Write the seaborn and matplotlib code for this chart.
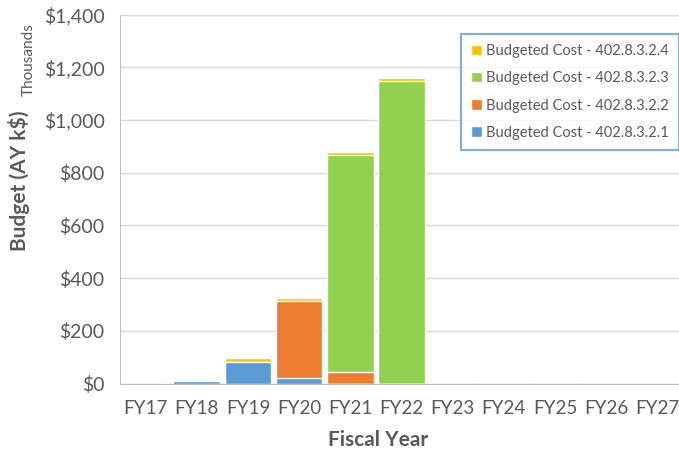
import numpy as np
import pandas as pd
import matplotlib
matplotlib.use("Agg")
import matplotlib.pyplot as plt
import seaborn as sns
from matplotlib.ticker import FuncFormatter

# Data (thousands of AY $)
years = ['FY17', 'FY18', 'FY19', 'FY20', 'FY21', 'FY22', 'FY23', 'FY24', 'FY25', 'FY26', 'FY27']
cost_1 = [0, 8, 83, 19, 0, 0, 0, 0, 0, 0, 0]       # 402.8.3.2.1
cost_2 = [0, 0, 0, 294, 44, 0, 0, 0, 0, 0, 0]      # 402.8.3.2.2
cost_3 = [0, 0, 0, 0, 822, 1149, 0, 0, 0, 0, 0]    # 402.8.3.2.3
cost_4 = [0, 0, 13, 10, 11, 11, 0, 0, 0, 0, 0]     # 402.8.3.2.4

names = ['Budgeted Cost - 402.8.3.2.1', 'Budgeted Cost - 402.8.3.2.2',
         'Budgeted Cost - 402.8.3.2.3', 'Budgeted Cost - 402.8.3.2.4']
colors = ['#5b9bd5', '#ed7d31', '#92d050', '#ffc000']

sns.set_style('white')
plt.rcParams['font.family'] = ['Lato', 'DejaVu Sans']

df = pd.DataFrame({'year': years, 'c1': cost_1, 'c2': cost_2, 'c3': cost_3, 'c4': cost_4})
cum = df[['c1', 'c2', 'c3', 'c4']].cumsum(axis=1)

fig = plt.figure(figsize=(6.79, 4.53), dpi=100)
ax = fig.add_axes([120 / 679, 69.5 / 453, 563 / 679, 369 / 453])

# stacked bars: draw cumulative totals from the top layer down
for i in [3, 2, 1, 0]:
    sns.barplot(x=df['year'], y=cum.iloc[:, i], color=colors[i], width=0.91,
                saturation=1, label=names[i], ax=ax, zorder=2)

ax.set_xlim(-0.5, 10.5)
ax.set_ylim(0, 1400)
ax.set_yticks(np.arange(0, 1401, 200))
ax.yaxis.set_major_formatter(FuncFormatter(lambda v, p: '${:,.0f}'.format(v)))
ax.grid(axis='y', color='#d9d9d9', linewidth=1, zorder=0)
ax.set_axisbelow(True)

for s in ['top', 'right']:
    ax.spines[s].set_visible(False)
ax.spines['left'].set_color('#bfbfbf')
ax.spines['bottom'].set_color('#bfbfbf')

ax.tick_params(axis='both', length=0, colors='#595959')
ax.tick_params(axis='y', labelsize=14, pad=11)
ax.tick_params(axis='x', labelsize=13.5, pad=12)

ax.set_xlabel('Fiscal Year', fontsize=15, fontweight='bold', color='#595959')
ax.xaxis.set_label_coords((378 - 120) / 563, -0.125)
ax.set_ylabel('Budget (AY k$)', fontsize=15, fontweight='bold', color='#595959')
ax.yaxis.set_label_coords(-0.16, 0.55)
fig.text(29 / 679, 1 - 60 / 453, 'Thousands', rotation=90, fontsize=11,
         color='#595959', ha='center', va='center')

handles, labels = ax.get_legend_handles_labels()
leg = ax.legend(handles, labels, loc='upper left', bbox_to_anchor=(0.606, 0.947),
                borderaxespad=0, fontsize=10.5, frameon=True, fancybox=False,
                handlelength=0.7, handleheight=0.7, handletextpad=0.3,
                labelspacing=0.9, borderpad=0.7, labelcolor='#595959')
leg.get_frame().set_edgecolor('#5b9bd5')
leg.get_frame().set_linewidth(1.5)

fig.savefig('out.png', dpi=100)
